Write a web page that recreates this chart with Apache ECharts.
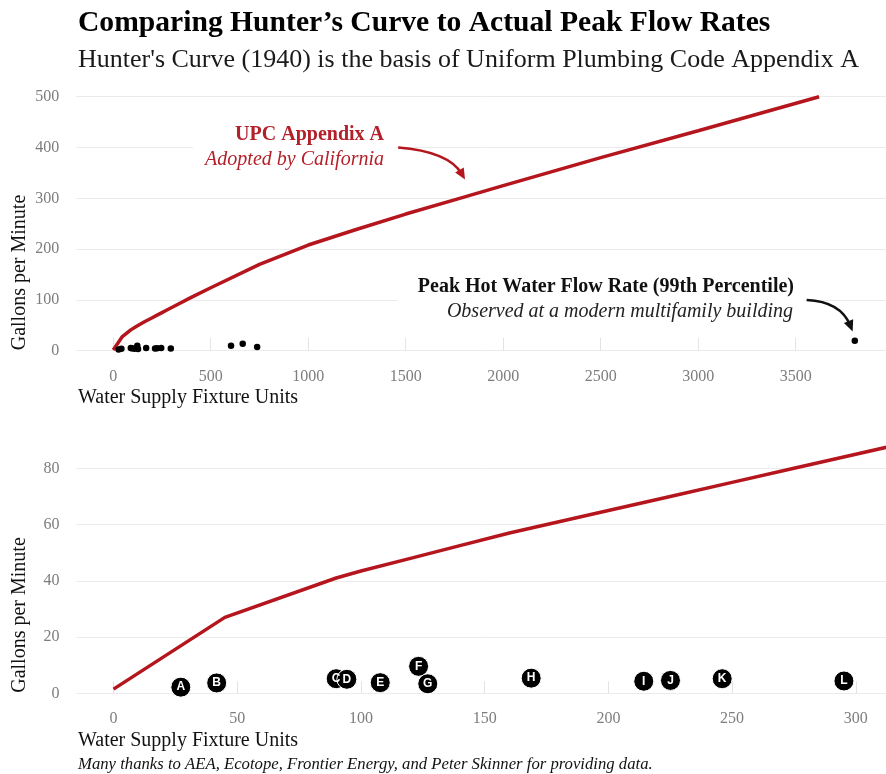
<!DOCTYPE html>
<html><head><meta charset="utf-8">
<script src="https://cdn.jsdelivr.net/npm/echarts@6/dist/echarts.min.js"></script>
<style>html,body{margin:0;padding:0;background:#fff}#c{width:886px;height:774px}</style>
</head><body><div id="c"></div>
<script>
// Hunter's curve (UPC Appendix A)
const curveWSFU = [0, 45, 90, 100, 120, 140, 160, 180, 200, 225, 250, 275, 300, 400, 500, 750, 1000, 1250, 1500, 1750, 2000, 2500, 3000, 3620];
const curveGPM  = [1.5, 27, 41, 43.5, 48, 52.5, 57, 61, 65, 70, 75, 80, 85, 105, 124, 170, 208, 239, 269, 297, 325, 380, 433, 500];
// Observed peak hot water flow (99th percentile), lettered buildings
const bldgLetters = ['A','B','C','D','E','F','G','H','I','J','K','L'];
const bldgWSFU = [27.2, 41.7, 90.0, 94.3, 107.8, 123.3, 127.0, 168.8, 214.3, 225.1, 246.0, 295.2];
const bldgGPM  = [2.2, 3.7, 5.2, 5.0, 3.8, 9.6, 3.4, 5.4, 4.3, 4.6, 5.2, 4.4];
// Other (unlettered) buildings shown in the upper chart
const otherWSFU = [604, 664, 738, 3803];
const otherGPM  = [9.8, 13.8, 7.2, 19.7];
// Tick labels
const topXTicks = [0, 500, 1000, 1500, 2000, 2500, 3000, 3500];
const topYTicks = [0, 100, 200, 300, 400, 500];
const botXTicks = [0, 50, 100, 150, 200, 250, 300];
const botYTicks = [0, 20, 40, 60, 80];

const RED = '#b5161e';
const RED_TXT = '#b3202a';
const SERIF = '"Liberation Serif", "Times New Roman", serif';
const GRID_C = '#ebebeb';
const LABEL_C = '#7d7d7d';

const curve = curveWSFU.map((x, i) => [x, curveGPM[i]]);
const bldg = bldgWSFU.map((x, i) => [x, bldgGPM[i], bldgLetters[i]]);
const allPts = bldg.map(d => [d[0], d[1]]).concat(otherWSFU.map((x, i) => [x, otherGPM[i]]));

function xAxisCfg(idx, min, max, ticks, tickLen) {
  return {
    type: 'value', gridIndex: idx, min: min, max: max,
    axisLine: {show: false},
    axisTick: {show: true, inside: true, length: tickLen, customValues: ticks, lineStyle: {color: '#e3e3e3', width: 1}},
    axisLabel: {customValues: ticks, formatter: v => String(v), color: LABEL_C, fontFamily: SERIF, fontSize: 16, margin: 5},
    splitLine: {show: false}
  };
}
function yAxisCfg(idx, min, max, ticks) {
  return {
    type: 'value', gridIndex: idx, min: min, max: max,
    axisLine: {show: false},
    axisTick: {show: false, customValues: ticks},
    axisLabel: {customValues: ticks, formatter: v => String(v), color: LABEL_C, fontFamily: SERIF, fontSize: 16, margin: 17},
    splitLine: {show: true, lineStyle: {color: GRID_C, width: 1}}
  };
}

const baseGraphic = [
  {id: 't1', type: 'text', x: 78, y: 23, z: 20, style: {text: 'Comparing Hunter\u2019s Curve to Actual Peak Flow Rates', fontFamily: SERIF, fontSize: 29.6, fontWeight: 'bold', fill: '#000', align: 'left', verticalAlign: 'middle'}},
  {id: 't2', type: 'text', x: 78, y: 60.5, z: 20, style: {text: "Hunter's Curve (1940) is the basis of Uniform Plumbing Code Appendix A", fontFamily: SERIF, fontSize: 26, fill: '#1a1a1a', align: 'left', verticalAlign: 'middle'}},
  {id: 'y1', type: 'text', x: 19.5, y: 272.5, rotation: Math.PI / 2, z: 20, style: {text: 'Gallons per Minute', fontFamily: SERIF, fontSize: 20, fill: '#111', align: 'center', verticalAlign: 'middle'}},
  {id: 'y2', type: 'text', x: 19.5, y: 615, rotation: Math.PI / 2, z: 20, style: {text: 'Gallons per Minute', fontFamily: SERIF, fontSize: 20, fill: '#111', align: 'center', verticalAlign: 'middle'}},
  {id: 'x1', type: 'text', x: 78, y: 397.5, z: 20, style: {text: 'Water Supply Fixture Units', fontFamily: SERIF, fontSize: 20, fill: '#111', align: 'left', verticalAlign: 'middle'}},
  {id: 'x2', type: 'text', x: 78, y: 740.5, z: 20, style: {text: 'Water Supply Fixture Units', fontFamily: SERIF, fontSize: 20, fill: '#111', align: 'left', verticalAlign: 'middle'}},
  {id: 'fn', type: 'text', x: 78, y: 765, z: 20, style: {text: 'Many thanks to AEA, Ecotope, Frontier Energy, and Peter Skinner for providing data.', fontFamily: SERIF, fontSize: 16.7, fontStyle: 'italic', fill: '#111', align: 'left', verticalAlign: 'middle'}},
  {id: 'b1', type: 'rect', z: 10, shape: {x: 193, y: 120, width: 203, height: 52}, style: {fill: '#fff'}},
  {id: 'a1', type: 'text', x: 384, y: 135, z: 20, style: {text: 'UPC Appendix A', fontFamily: SERIF, fontSize: 20, fontWeight: 'bold', fill: RED_TXT, align: 'right', verticalAlign: 'middle'}},
  {id: 'a2', type: 'text', x: 384, y: 160, z: 20, style: {text: 'Adopted by California', fontFamily: SERIF, fontSize: 20, fontStyle: 'italic', fill: RED_TXT, align: 'right', verticalAlign: 'middle'}},
  {id: 'b2', type: 'rect', z: 10, shape: {x: 398, y: 272, width: 406, height: 54}, style: {fill: '#fff'}},
  {id: 'a3', type: 'text', x: 794, y: 286.7, z: 20, style: {text: 'Peak Hot Water Flow Rate (99th Percentile)', fontFamily: SERIF, fontSize: 20, fontWeight: 'bold', fill: '#111', align: 'right', verticalAlign: 'middle'}},
  {id: 'a4', type: 'text', x: 793, y: 311.4, z: 20, style: {text: 'Observed at a modern multifamily building', fontFamily: SERIF, fontSize: 20, fontStyle: 'italic', fill: '#222', align: 'right', verticalAlign: 'middle'}}
];

const chart = echarts.init(document.getElementById('c'), null, {renderer: 'canvas'});
chart.setOption({
  animation: false,
  backgroundColor: '#fff',
  grid: [
    {left: 76.2, top: 84.0, right: 0, height: 279.4},
    {left: 76.4, top: 442.3, right: 0, height: 263.0}
  ],
  xAxis: [
    xAxisCfg(0, -190, 3963, topXTicks, 13),
    xAxisCfg(1, -15, 312.2, botXTicks, 12)
  ],
  yAxis: [
    yAxisCfg(0, -25, 525, topYTicks),
    yAxisCfg(1, -4.25, 89.25, botYTicks)
  ],
  series: [
    {
      type: 'line', xAxisIndex: 0, yAxisIndex: 0, data: curve, showSymbol: false, silent: true,
      lineStyle: {color: RED, width: 3.5}, z: 3
    },
    {
      type: 'scatter', xAxisIndex: 0, yAxisIndex: 0, data: allPts, symbolSize: 6.5, silent: true,
      itemStyle: {color: '#000', opacity: 1}, z: 4
    },
    {
      type: 'line', xAxisIndex: 1, yAxisIndex: 1, data: curve, showSymbol: false, silent: true,
      lineStyle: {color: RED, width: 3.5}, z: 3
    },
    {
      type: 'scatter', xAxisIndex: 1, yAxisIndex: 1, data: bldg, symbolSize: 20, silent: true,
      itemStyle: {color: '#000', opacity: 1, borderColor: '#fff', borderWidth: 1}, z: 4,
      label: {
        show: true, position: 'inside', formatter: p => p.data[2],
        color: '#fff', fontWeight: 'bold', fontSize: 12, fontFamily: '"Liberation Sans", Arial, sans-serif'
      }
    }
  ],
  graphic: baseGraphic
});

// Curved annotation arrows, positioned through the top chart's scales
function arrow(id, from, ctrl, to, color) {
  const p0 = chart.convertToPixel({gridIndex: 0}, from);
  const c = chart.convertToPixel({gridIndex: 0}, ctrl);
  const p1 = chart.convertToPixel({gridIndex: 0}, to);
  const dx = p1[0] - c[0], dy = p1[1] - c[1];
  const L = Math.sqrt(dx * dx + dy * dy);
  const ux = dx / L, uy = dy / L;
  const hl = 11, hw = 5;
  const bx = p1[0] - ux * hl, by = p1[1] - uy * hl;
  const endX = p1[0] - ux * hl * 0.6, endY = p1[1] - uy * hl * 0.6;
  return [
    {id: id + 'l', type: 'bezierCurve', z: 15, shape: {x1: p0[0], y1: p0[1], x2: endX, y2: endY, cpx1: c[0], cpy1: c[1]},
     style: {stroke: color, lineWidth: 2.5, fill: null}},
    {id: id + 'h', type: 'polygon', z: 15, shape: {points: [[p1[0], p1[1]], [bx - uy * hw, by + ux * hw], [bx + uy * hw, by - ux * hw]]},
     style: {fill: color}}
  ];
}
chart.setOption({
  graphic: baseGraphic.concat(
    arrow('ar1', [1461, 400], [1720, 392], [1804, 337], RED),
    arrow('ar2', [3556, 100], [3730, 97], [3792, 38], '#111')
  )
});
</script></body></html>
